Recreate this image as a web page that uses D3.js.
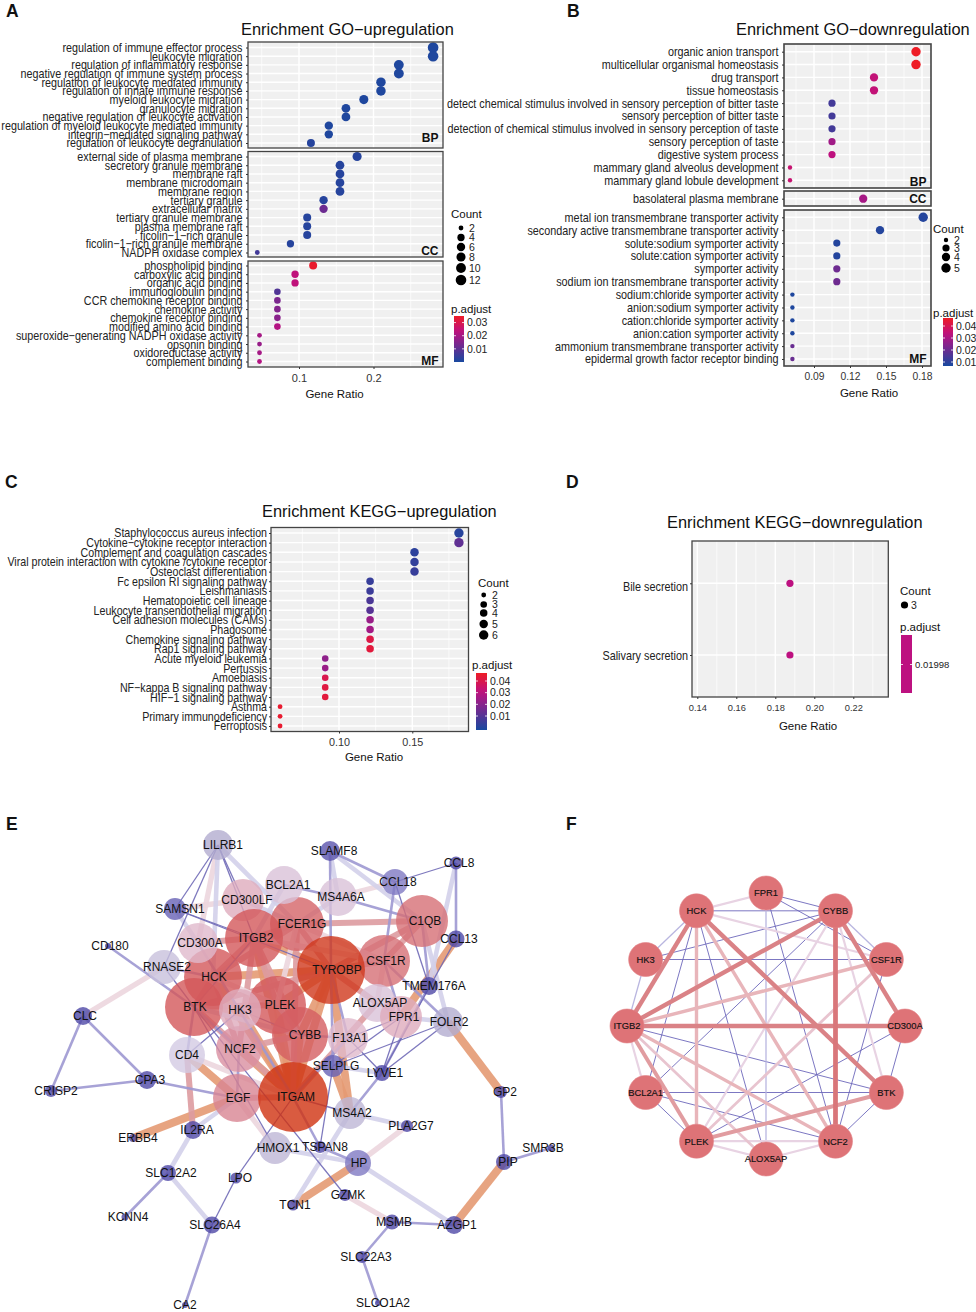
<!DOCTYPE html>
<html><head><meta charset="utf-8">
<script src="https://cdnjs.cloudflare.com/ajax/libs/d3/7.8.5/d3.min.js"></script>
<style>
html,body{margin:0;padding:0;background:#fff}
svg{display:block}
text{font-family:"Liberation Sans",Arial,sans-serif}
</style></head><body>
<svg id="fig" width="976" height="1312" viewBox="0 0 976 1312"></svg>
<script>
// ---------- Panel A: GO up-regulation ----------
const aBpTerms=["regulation of immune effector process","leukocyte migration","regulation of inflammatory response","negative regulation of immune system process","regulation of leukocyte mediated immunity","regulation of innate immune response","myeloid leukocyte migration","granulocyte migration","negative regulation of leukocyte activation","regulation of myeloid leukocyte mediated immunity","integrin−mediated signaling pathway","regulation of leukocyte degranulation"];
const aBpRatio=[0.28,0.28,0.234,0.234,0.21,0.21,0.187,0.163,0.163,0.14,0.14,0.116];
const aBpCount=[12,12,10,10,9,9,8,7,7,6,6,5];
const aBpP=[0.001,0.001,0.001,0.001,0.001,0.001,0.001,0.001,0.001,0.001,0.001,0.002];
const aCcTerms=["external side of plasma membrane","secretory granule membrane","membrane raft","membrane microdomain","membrane region","tertiary granule","extracellular matrix","tertiary granule membrane","plasma membrane raft","ficolin−1−rich granule","ficolin−1−rich granule membrane","NADPH oxidase complex"];
const aCcRatio=[0.178,0.155,0.155,0.155,0.155,0.133,0.133,0.111,0.111,0.111,0.0885,0.044];
const aCcCount=[8,7,7,7,7,6,6,5,5,5,4,2];
const aCcP=[0.002,0.002,0.002,0.002,0.002,0.002,0.012,0.002,0.002,0.002,0.002,0.006];
const aMfTerms=["phospholipid binding","carboxylic acid binding","organic acid binding","immunoglobulin binding","CCR chemokine receptor binding","chemokine activity","chemokine receptor binding","modified amino acid binding","superoxide−generating NADPH oxidase activity","opsonin binding","oxidoreductase activity","complement binding"];
const aMfRatio=[0.119,0.0947,0.0947,0.071,0.071,0.071,0.071,0.071,0.047,0.047,0.047,0.047];
const aMfCount=[5,4,4,3,3,3,3,3,2,2,2,2];
const aMfP=[0.034,0.024,0.024,0.008,0.014,0.015,0.016,0.022,0.02,0.018,0.02,0.022];
// ---------- Panel B: GO down-regulation ----------
const bBpTerms=["organic anion transport","multicellular organismal homeostasis","drug transport","tissue homeostasis","detect chemical stimulus involved in sensory perception of bitter taste","sensory perception of bitter taste","detection of chemical stimulus involved in sensory perception of taste","sensory perception of taste","digestive system process","mammary gland alveolus development","mammary gland lobule development"];
const bBpRatio=[0.175,0.175,0.14,0.14,0.105,0.105,0.105,0.105,0.105,0.07,0.07];
const bBpCount=[5,5,4,4,3,3,3,3,3,2,2];
const bBpP=[0.045,0.045,0.033,0.033,0.012,0.012,0.012,0.027,0.032,0.034,0.034];
const bCcTerms=["basolateral plasma membrane"];
const bCcRatio=[0.131];
const bCcCount=[4];
const bCcP=[0.028];
const bMfTerms=["metal ion transmembrane transporter activity","secondary active transmembrane transporter activity","solute:sodium symporter activity","solute:cation symporter activity","symporter activity","sodium ion transmembrane transporter activity","sodium:chloride symporter activity","anion:sodium symporter activity","cation:chloride symporter activity","anion:cation symporter activity","ammonium transmembrane transporter activity","epidermal growth factor receptor binding"];
const bMfRatio=[0.181,0.145,0.109,0.109,0.109,0.109,0.072,0.072,0.072,0.072,0.072,0.072];
const bMfCount=[5,4,3,3,3,3,2,2,2,2,2,2];
const bMfP=[0.007,0.007,0.007,0.007,0.019,0.019,0.006,0.006,0.006,0.006,0.018,0.018];
// ---------- Panel C: KEGG up-regulation ----------
const cTerms=["Staphylococcus aureus infection","Cytokine−cytokine receptor interaction","Complement and coagulation cascades","Viral protein interaction with cytokine /cytokine receptor","Osteoclast differentiation","Fc epsilon RI signaling pathway","Leishmaniasis","Hematopoietic cell lineage","Leukocyte transendothelial migration","Cell adhesion molecules (CAMs)","Phagosome","Chemokine signaling pathway","Rap1 signaling pathway","Acute myeloid leukemia","Pertussis","Amoebiasis","NF−kappa B signaling pathway","HIF−1 signaling pathway","Asthma","Primary immunodeficiency","Ferroptosis"];
const cRatio=[0.1818,0.1818,0.1515,0.1515,0.1515,0.1212,0.1212,0.1212,0.1212,0.1212,0.1212,0.1212,0.1212,0.0906,0.0906,0.0906,0.0906,0.0906,0.0598,0.0598,0.0598];
const cCount=[6,6,5,5,5,4,4,4,4,4,4,4,4,3,3,3,3,3,2,2,2];
const cP=[0.003,0.014,0.004,0.005,0.006,0.006,0.007,0.01,0.012,0.025,0.027,0.042,0.044,0.023,0.025,0.041,0.043,0.044,0.046,0.046,0.046];
// ---------- Panel D: KEGG down-regulation ----------
const dTerms=["Bile secretion","Salivary secretion"];
const dRatio=[0.1875,0.1875];
const dCount=[3,3];
const dP=[0.01998,0.01998];
// ---------- Panel E: PPI network ----------
const eNames=["LILRB1","SLAMF8","CCL8","CCL18","CD300LF","FCER1G","BCL2A1","MS4A6A","SAMSN1","C1QB","CSF1R","ITGB2","HCK","CD300A","RNASE2","CCL13","CD180","TYROBP","TMEM176A","BTK","PLEK","ALOX5AP","FPR1","FOLR2","CLC","F13A1","CYBB","NCF2","HK3","CD4","SELPLG","LYVE1","CPA3","CRISP2","EGF","ITGAM","MS4A2","ERBB4","IL2RA","HMOX1","TSPAN8","PLA2G7","HP","GP2","PIP","SMR3B","LPO","SLC12A2","KCNN4","SLC26A4","GZMK","TCN1","MSMB","AZGP1","SLC22A3","CA2","SLCO1A2"];
const eLayoutX=[218,330,456,395,243,297,284,338,175,422,384,254,213,198,164,456,108,331,429,194,277,377,401,448,83,348,300,239,240,187,333,382,147,51,237,293,350,133,193,275,320,407,358,501,504,551,236,168,125,212,345,293,392,454,362,185,378];
const eLayoutY=[845,851,863,882,900,924,885,897,909,921,961,938,977,943,967,939,946,970,986,1007,1005,1003,1017,1022,1016,1038,1035,1049,1010,1055,1066,1073,1080,1091,1098,1097,1113,1138,1130,1148,1147,1126,1163,1092,1162,1148,1178,1173,1217,1225,1195,1205,1222,1225,1257,1305,1303];
const eLabelDx=[5,4,3,3,4,5,4,3,5,3,2,2,1,2,3,3,2,6,5,1,3,3,3,1,2,2,5,1,0,0,3,3,3,5,1,3,2,5,4,3,5,4,1,4,4,-8,4,3,3,3,3,2,2,3,4,0,5];
const eDegree=[15,10,6.5,13,21,27,19,19,11,26,26,29,29,20,17,8.5,3,34,9,29,29,19,21,15,9,20,28,23,21,18,11,8,9,6,24,35,16,4,9,16,6,6,13,6,8,3.5,5.5,8,3.5,8.5,6,5.5,7.5,9,6,3,3];
const eEdges=[
["LILRB1","RNASE2",1],["LILRB1","CD300A",4],["LILRB1","CD300LF",1],["LILRB1","ITGB2",1],["LILRB1","HCK",3],["LILRB1","FCER1G",3],["LILRB1","SAMSN1",1],
["SAMSN1","CD300A",3],["SAMSN1","ITGB2",1],["SAMSN1","CD300LF",4],["SAMSN1","TYROBP",1],
["CD180","BTK",2],["RNASE2","CLC",4],["RNASE2","HCK",2],["RNASE2","BTK",1],["CLC","CRISP2",2],["CLC","CPA3",2],["CRISP2","CPA3",2],["CPA3","EGF",2],
["EGF","ERBB4",6],["CD4","EGF",6],["CD4","IL2RA",5],["CD4","BTK",2],["CD4","HK3",1],["CD4","ITGAM",4],["IL2RA","EGF",3],["IL2RA","SLC12A2",3],["SLC12A2","KCNN4",2],["SLC12A2","SLC26A4",3],["SLC26A4","LPO",1],["SLC26A4","CA2",2],["LPO","ITGAM",1],
["HMOX1","EGF",4],["HMOX1","HP",3],["HMOX1","BTK",1],["TSPAN8","ITGAM",2],["TSPAN8","HP",2],["TSPAN8","SELPLG",1],["GZMK","BTK",1],["GZMK","MSMB",4],["MSMB","AZGP1",2],["MSMB","SLC22A3",2],["SLC22A3","SLCO1A2",2],
["HP","AZGP1",3],["AZGP1","PIP",6],["PIP","SMR3B",2],["PIP","GP2",2],["GP2","FOLR2",6],["HP","TCN1",6],["HP","PLA2G7",4],["MS4A2","PLA2G7",3],["MS4A2","ITGAM",1],["MS4A2","TCN1",3],["MS4A2","LYVE1",2],["SELPLG","MS4A2",6],["SELPLG","FOLR2",1],["SELPLG","LYVE1",3],["SELPLG","FPR1",1],
["F13A1","LYVE1",1],["LYVE1","FPR1",1],["LYVE1","TMEM176A",2],["LYVE1","CCL13",1],["TMEM176A","CCL18",1],["CCL13","FPR1",6],["CCL8","CCL18",1],["CCL8","CCL13",2],["CCL8","TMEM176A",3],
["CCL18","CSF1R",2],["CCL18","SLAMF8",2],["SLAMF8","MS4A6A",3],["SLAMF8","C1QB",3],["SLAMF8","TYROBP",2],["BCL2A1","MS4A6A",2],["MS4A6A","CCL18",4],["MS4A6A","C1QB",2],["MS4A6A","FCER1G",3],["C1QB","FCER1G",5],["C1QB","TYROBP",5],["C1QB","CSF1R",5],["C1QB","TMEM176A",2],["C1QB","FOLR2",3],["CSF1R","FOLR2",2],["FOLR2","LYVE1",1],["FOLR2","FPR1",3],
["TYROBP","ITGAM",6],["TYROBP","FCER1G",5],["TYROBP","CSF1R",5],["TYROBP","ITGB2",6],["TYROBP","HCK",6],["TYROBP","PLEK",6],["TYROBP","CYBB",6],["TYROBP","BTK",5],["TYROBP","ALOX5AP",5],["TYROBP","MS4A2",6],["TYROBP","SELPLG",2],
["ITGAM","ITGB2",6],["ITGAM","CYBB",6],["ITGAM","PLEK",6],["ITGAM","HCK",6],["ITGAM","NCF2",6],["ITGAM","BTK",5],["ITGAM","EGF",5],["ITGAM","F13A1",2],["ITGAM","HK3",6],["ITGAM","CD300A",2],["ITGAM","FCER1G",5],
["ITGB2","HCK",5],["ITGB2","FCER1G",5],["ITGB2","PLEK",5],["ITGB2","BTK",1],["ITGB2","CYBB",5],["ITGB2","CD300A",5],["ITGB2","CSF1R",4],["ITGB2","NCF2",5],["ITGB2","BCL2A1",3],["FCER1G","HCK",5],["FCER1G","CSF1R",4],["FCER1G","PLEK",4],["FCER1G","CD300LF",3],
["HCK","BTK",5],["HCK","PLEK",4],["HCK","NCF2",5],["CYBB","NCF2",5],["CYBB","PLEK",3],["CYBB","HK3",1],["CYBB","F13A1",2],["CYBB","BTK",3],["CSF1R","ALOX5AP",4],["CSF1R","FPR1",2],["FPR1","ALOX5AP",2],["FPR1","F13A1",1],["F13A1","TYROBP",2],["ALOX5AP","ITGAM",5],["BTK","PLEK",5],["BTK","NCF2",2],["EGF","NCF2",2]
];
// ---------- Panel F: hub gene network ----------
const fNames=["FPR1","CYBB","CSF1R","CD300A","BTK","NCF2","ALOX5AP","PLEK","BCL2A1","ITGB2","HK3","HCK"];
const fEdges=[
["HCK","ITGB2",5],["HCK","BTK",5],["ITGB2","CYBB",5],["ITGB2","CD300A",5],["CYBB","NCF2",5.6],["CYBB","CD300A",5],["ITGB2","CSF1R",4],["PLEK","BTK",4.5],["ITGB2","PLEK",4.5],["ITGB2","NCF2",4],["ITGB2","ALOX5AP",3.5],["HCK","NCF2",4],["HCK","PLEK",4],
["HCK","FPR1",3],["HCK","CSF1R",3],["CYBB","PLEK",3],["CSF1R","PLEK",3.5],["ITGB2","BCL2A1",3],["CYBB","BTK",3],["PLEK","NCF2",3],["PLEK","ALOX5AP",3],["NCF2","ALOX5AP",3],["HCK","HK3",2],["CYBB","CSF1R",2],
["FPR1","CYBB",1],["FPR1","CSF1R",1],["HCK","CYBB",1],["FPR1","ALOX5AP",2],["FPR1","NCF2",1],["HCK","ALOX5AP",1],["HCK","BCL2A1",1],["HK3","CYBB",1],["HK3","CSF1R",1],["HK3","ITGB2",2],["BCL2A1","CYBB",1],["BCL2A1","BTK",1],["BCL2A1","NCF2",1],["BCL2A1","PLEK",1],["CD300A","PLEK",1],["CD300A","BTK",1],["CSF1R","NCF2",1],["BTK","NCF2",1],["ITGB2","BTK",1]
];
// ---------- Tick and legend lists ----------
const aTicks=[0.1,0.2], aMinor=[0.05,0.15,0.25];
const bTicks=[0.09,0.12,0.15,0.18], bMinor=[0.075,0.105,0.135,0.165];
const cTicks=[0.10,0.15], cMinor=[0.075,0.125,0.175];
const dTicks=[0.14,0.16,0.18,0.20,0.22], dMinor=[0.15,0.17,0.19,0.21,0.23];
const aLegendCounts=[2,4,6,8,10,12], aLegendP=[0.03,0.02,0.01];
const bLegendCounts=[2,3,4,5], bLegendP=[0.04,0.03,0.02,0.01];
const cLegendCounts=[2,3,4,5,6], cLegendP=[0.04,0.03,0.02,0.01];
const dLegendCounts=[3], dLegendP=[0.01998];

const svg=d3.select("#fig");
const rampColors=["#18499f","#6a2c91","#bd1180","#ee1c25"];
function ramp(domain){
  const [a,b]=domain;
  return d3.scaleLinear().domain(rampColors.map((_,i)=>a+(b-a)*i/3)).range(rampColors).interpolate(d3.interpolateRgb).clamp(true);
}
let gid=0;

function dotPanel(o){
  const g=svg.append("g");
  const x=d3.scaleLinear().domain(o.xDomain).range(o.xRange);
  const [L,R]=[o.box[0],o.box[1]];
  const col=ramp(o.pDomain);
  const size=d3.scaleLinear().domain(o.countDomain).range(o.rRange);
  o.facets.forEach(f=>{
    const fg=g.append("g");
    fg.append("rect").attr("x",L).attr("y",f.top).attr("width",R-L).attr("height",f.bottom-f.top).attr("fill","#f0f0f0");
    const y=d3.scalePoint().domain(f.terms).range(f.range);
    fg.selectAll(".minor").data(o.minor).join("line").attr("x1",d=>x(d)).attr("x2",d=>x(d)).attr("y1",f.top).attr("y2",f.bottom).attr("stroke","#fff").attr("stroke-width",0.7);
    fg.selectAll(".major").data(o.ticks).join("line").attr("x1",d=>x(d)).attr("x2",d=>x(d)).attr("y1",f.top).attr("y2",f.bottom).attr("stroke","#fff").attr("stroke-width",1.4);
    fg.selectAll(".hgrid").data(f.terms).join("line").attr("x1",L).attr("x2",R).attr("y1",d=>y(d)).attr("y2",d=>y(d)).attr("stroke","#fff").attr("stroke-width",1.4);
    fg.selectAll(".dot").data(f.terms).join("circle")
      .attr("cx",(d,i)=>x(f.ratio[i])).attr("cy",d=>y(d))
      .attr("r",(d,i)=>size(f.count[i])).attr("fill",(d,i)=>col(f.p[i]));
    fg.append("rect").attr("x",L).attr("y",f.top).attr("width",R-L).attr("height",f.bottom-f.top).attr("fill","none").attr("stroke","#444").attr("stroke-width",o.frame||1.3);
    const ax=fg.append("g").attr("transform",`translate(${L},0)`).call(d3.axisLeft(y).tickSize(2).tickPadding(2));
    ax.select(".domain").remove();
    ax.selectAll("line").attr("stroke","#333");
    const k=o.labelK;
    ax.selectAll("text").attr("font-size",o.labelSize).attr("fill","#222").style("font-family",'"Liberation Sans",Arial,sans-serif')
      .attr("x",-(o.labelPad)/k).attr("transform",`scale(${k},1)`).attr("dy",(d,i)=>Array.isArray(o.labelDy)?o.labelDy[i]:o.labelDy);
    if(f.strip) fg.append("text").attr("x",R-4.5).attr("y",f.bottom-f.stripDy).attr("text-anchor","end").attr("font-size",12).attr("font-weight","bold").attr("fill","#111").text(f.strip);
  });
  const bottom=o.facets[o.facets.length-1].bottom;
  const xa=g.append("g").attr("transform",`translate(0,${bottom})`).call(d3.axisBottom(x).tickValues(o.ticks).tickSize(2).tickPadding(5).tickFormat(d3.format(o.fmt)));
  xa.select(".domain").remove();
  xa.selectAll("line").attr("stroke","#333");
  xa.selectAll("text").attr("font-size",o.tickSize||10).attr("fill","#333").style("font-family",'"Liberation Sans",Arial,sans-serif');
  g.append("text").attr("x",o.xLabelX).attr("y",o.xLabelY).attr("text-anchor","middle").attr("font-size",11.5).attr("fill","#111").text("Gene Ratio");
  g.append("text").attr("x",o.titleX).attr("y",o.titleY).attr("font-size",o.titleSize||16.4).attr("fill","#111").text(o.title);
  const lg=o.legend;
  g.append("text").attr("x",lg.countX).attr("y",lg.countY).attr("font-size",11.5).attr("fill","#111").text("Count");
  g.selectAll(".lc").data(lg.counts).join("circle").attr("cx",lg.dotX).attr("cy",(d,i)=>lg.dotY[i]).attr("r",d=>size(d)).attr("fill","#000");
  g.selectAll(".lt").data(lg.counts).join("text").attr("x",lg.textX).attr("y",(d,i)=>lg.dotY[i]+3.7).attr("font-size",10.5).attr("fill","#222").text(d=>d);
  g.append("text").attr("x",lg.pX).attr("y",lg.pY).attr("font-size",11.5).attr("fill","#111").text("p.adjust");
  const id="grad"+(gid++);
  const defs=g.append("defs").append("linearGradient").attr("id",id).attr("x1",0).attr("x2",0).attr("y1",1).attr("y2",0);
  d3.range(0,1.001,0.1).forEach(t=>defs.append("stop").attr("offset",t).attr("stop-color",col(lg.barDomain[0]+(lg.barDomain[1]-lg.barDomain[0])*t)));
  g.append("rect").attr("x",lg.barX).attr("y",lg.barTop).attr("width",lg.barW).attr("height",lg.barBottom-lg.barTop).attr("fill",`url(#${id})`);
  const by=d3.scaleLinear().domain(lg.barDomain).range([lg.barBottom,lg.barTop]);
  const pos=lg.pPos?lg.pPos:by;
  lg.ps.forEach(p=>{
    const yy=pos(p);
    [[lg.barX,lg.barX+2],[lg.barX+lg.barW-2,lg.barX+lg.barW]].forEach(s=>g.append("line").attr("x1",s[0]).attr("x2",s[1]).attr("y1",yy).attr("y2",yy).attr("stroke","#fff").attr("stroke-width",0.8));
    g.append("text").attr("x",lg.barX+lg.barW+3).attr("y",yy+3.7).attr("font-size",lg.pSize||10.5).attr("fill","#222").text(p);
  });
}

dotPanel({title:"Enrichment GO−upregulation",titleX:241,titleY:35,tickSize:11,
  xDomain:[0.1,0.2],xRange:[299,373.5],box:[248,443],ticks:aTicks,minor:aMinor,fmt:".1f",
  pDomain:[0,0.035],countDomain:[2,3,5,12],rRange:[2.4,3.3,4,5.3],labelSize:12.4,labelK:0.868,labelPad:5.6,labelDy:"0.32em",
  facets:[
   {terms:aBpTerms,ratio:aBpRatio,count:aBpCount,p:aBpP,top:42,bottom:148,range:[47.5,143],strip:"BP",stripDy:6},
   {terms:aCcTerms,ratio:aCcRatio,count:aCcCount,p:aCcP,top:151.5,bottom:257,range:[156.5,252.5],strip:"CC",stripDy:2.5},
   {terms:aMfTerms,ratio:aMfRatio,count:aMfCount,p:aMfP,top:261,bottom:367,range:[265.5,361.5],strip:"MF",stripDy:2}
  ],
  xLabelX:334.5,xLabelY:398,
  legend:{countX:451,countY:217.5,counts:aLegendCounts,dotX:461,dotY:[228,237.5,247,257,268,280],textX:469,pX:451,pY:313,ps:aLegendP,barX:454,barW:10,barTop:316,barBottom:362,barDomain:[0,0.035]}
});
dotPanel({title:"Enrichment GO−downregulation",titleX:736,titleY:35,tickSize:10.3,
  xDomain:[0.09,0.18],xRange:[814,922],box:[784,931],ticks:bTicks,minor:bMinor,fmt:".2f",
  pDomain:[0.005,0.045],countDomain:[2,3,5],rRange:[2.2,3.6,4.7],labelSize:12.4,labelK:0.872,labelPad:5.6,labelDy:"0.32em",frame:1.6,
  facets:[
   {terms:bBpTerms,ratio:bBpRatio,count:bBpCount,p:bBpP,top:44,bottom:188,range:[51.7,180.3],strip:"BP",stripDy:2.5},
   {terms:bCcTerms,ratio:bCcRatio,count:bCcCount,p:bCcP,top:191,bottom:206,range:[198.7,198.7],strip:"CC",stripDy:3},
   {terms:bMfTerms,ratio:bMfRatio,count:bMfCount,p:bMfP,top:210,bottom:366,range:[217.3,359],strip:"MF",stripDy:3}
  ],
  xLabelX:869,xLabelY:397,
  legend:{countX:933,countY:233,counts:bLegendCounts,dotX:946,dotY:[240,248,257,268],textX:954,pX:933,pY:317,ps:bLegendP,barX:943,barW:10,barTop:318,barBottom:366,barDomain:[0.005,0.045],pPos:d3.scaleLinear().domain([0.01,0.04]).range([362,326])}
});
dotPanel({title:"Enrichment KEGG−upregulation",titleX:262,titleY:517,tickSize:10.8,
  xDomain:[0.10,0.15],xRange:[339,412.3],box:[271,468.5],ticks:cTicks,minor:cMinor,fmt:".2f",
  pDomain:[0,0.048],countDomain:[2,3,6],rRange:[2.4,3.3,4.7],labelSize:12.4,labelK:0.86,labelPad:4,labelDy:"0.32em",
  facets:[{terms:cTerms,ratio:cRatio,count:cCount,p:cP,top:527.5,bottom:731.5,range:[533,726]}],
  xLabelX:374,xLabelY:761,
  legend:{countX:478,countY:587,counts:cLegendCounts,dotX:483.7,dotY:[595,604.5,613,624,635],textX:492,pX:472,pY:669,ps:cLegendP,barX:476,barW:11,barTop:673,barBottom:730,barDomain:[0,0.048],pPos:d3.scaleLinear().domain([0.01,0.04]).range([716,681])}
});
dotPanel({title:"Enrichment KEGG−downregulation",titleX:667,titleY:528,tickSize:9.3,
  xDomain:[0.14,0.22],xRange:[697.3,853.3],box:[692,888.3],ticks:dTicks,minor:dMinor,fmt:".2f",
  pDomain:[0,0.03],countDomain:[3,4],rRange:[3.6,4],labelSize:12.4,labelK:0.875,labelPad:4,labelDy:["0.6em","0.38em"],
  facets:[{terms:dTerms,ratio:dRatio,count:dCount,p:dP,top:541,bottom:697,range:[583.3,655]}],
  xLabelX:808,xLabelY:730,
  legend:{countX:900,countY:595,counts:dLegendCounts,dotX:904.5,dotY:[605],textX:911,pX:900,pY:631,ps:dLegendP,barX:901,barW:11,barTop:635,barBottom:693,barDomain:[0.01998,0.01998],pPos:()=>664.5,pSize:9.5}
});

const panelLetters=[["A",6,17],["B",567,17],["C",5,488],["D",566,488],["E",6,830],["F",566,830]];
svg.selectAll(".letter").data(panelLetters).join("text").attr("x",d=>d[1]).attr("y",d=>d[2]).attr("font-size",17.5).attr("font-weight","bold").attr("fill","#111").text(d=>d[0]);

// Network E
const eg=svg.append("g");
const ex=d3.scaleIdentity(), ey=d3.scaleIdentity();
const eIdx=new Map(eNames.map((n,i)=>[n,i]));
const eWidth=d3.scaleLinear().domain([1,2,3,4,5,6]).range([1.3,2.6,4.6,5.4,6,8]);
const eColor=d3.scaleOrdinal().domain([1,2,3,4,5,6]).range(["#6f69b6","#9d98d1","#d3d0ea","#ecd6de","#dd9ba0","#e49a73"]);
const order=eEdges.slice().sort((a,b)=>b[2]-a[2]);
eg.selectAll("line").data(order).join("line")
 .attr("x1",d=>ex(eLayoutX[eIdx.get(d[0])])).attr("y1",d=>ey(eLayoutY[eIdx.get(d[0])]))
 .attr("x2",d=>ex(eLayoutX[eIdx.get(d[1])])).attr("y2",d=>ey(eLayoutY[eIdx.get(d[1])]))
 .attr("stroke",d=>eColor(d[2])).attr("stroke-width",d=>eWidth(d[2])).attr("stroke-opacity",0.9);
const eNodeColor=d3.scaleLinear().domain([3,9,13,15,18,20,23,27,30,35]).range(["#4a43a3","#4f48a6","#8079c3","#b3accf","#d3cbe3","#e0b9cc","#d98fa0","#d56468","#d25253","#cf3210"]);
const eRadius=d3.scaleLinear().domain([0,35]).range([0,35]);
eg.selectAll("circle").data(eNames).join("circle")
 .attr("cx",(d,i)=>ex(eLayoutX[i])).attr("cy",(d,i)=>ey(eLayoutY[i]))
 .attr("r",(d,i)=>eRadius(eDegree[i])).attr("fill",(d,i)=>eNodeColor(eDegree[i])).attr("fill-opacity",0.8);
eg.selectAll("text").data(eNames).join("text")
 .attr("x",(d,i)=>ex(eLayoutX[i])+eLabelDx[i]).attr("y",(d,i)=>ey(eLayoutY[i])+4.4)
 .attr("text-anchor","middle").attr("font-size",12).attr("fill","#111").text(d=>d);

// Network F: circular layout
const fg=svg.append("g");
const fAngle=d3.scalePoint().domain(fNames).range([0,2*Math.PI*11/12]);
const fX=d3.scaleLinear().domain([-1,1]).range([627,905]);
const fY=d3.scaleLinear().domain([-1,1]).range([893,1159]);
const fx=n=>fX(Math.sin(fAngle(n))), fy=n=>fY(-Math.cos(fAngle(n)));
const fWidth=d3.scaleLinear().domain([1,2,3,4,5,6]).range([0.9,1.3,2.2,3.4,4.4,5]);
const fColor=d3.scaleLinear().domain([1,2,3,4,5,6]).range(["#6d68bb","#b9b6e0","#e8d3e3","#e8b5ba","#da8286","#d96e72"]);
const fOrder=fEdges.slice().sort((a,b)=>a[2]-b[2]);
fg.selectAll("line").data(fOrder).join("line")
 .attr("x1",d=>fx(d[0])).attr("y1",d=>fy(d[0])).attr("x2",d=>fx(d[1])).attr("y2",d=>fy(d[1]))
 .attr("stroke",d=>fColor(d[2])).attr("stroke-width",d=>fWidth(d[2]));
fg.selectAll("circle").data(fNames).join("circle")
 .attr("cx",fx).attr("cy",fy).attr("r",17).attr("fill","#de7377").attr("stroke","#e38286").attr("stroke-width",0.6);
fg.selectAll("text").data(fNames).join("text")
 .attr("x",fx).attr("y",d=>fy(d)+3.4).attr("text-anchor","middle").attr("font-size",9.4).attr("fill","#111").attr("stroke","#111").attr("stroke-width",0.15).text(d=>d);
</script>
</body></html>
